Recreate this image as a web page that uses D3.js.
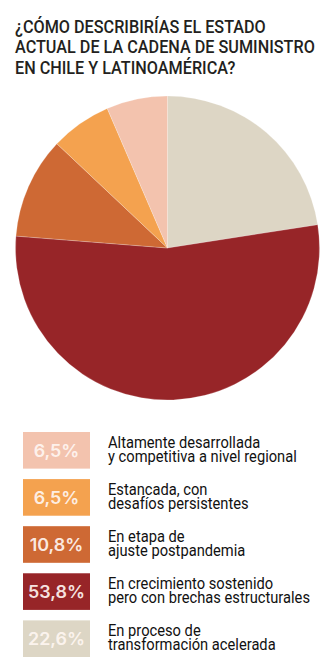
<!DOCTYPE html>
<html>
<head>
<meta charset="utf-8">
<script src="https://cdn.jsdelivr.net/npm/d3@7"></script>
<style>
  html, body { margin: 0; padding: 0; background: #fff; }
  svg { display: block; }
</style>
</head>
<body>
<svg id="chart" width="335" height="665"></svg>
<script>
// Survey answers, in legend order (top to bottom)
const categories = [
  ["Altamente desarrollada", "y competitiva a nivel regional"],
  ["Estancada, con", "desafíos persistentes"],
  ["En etapa de", "ajuste postpandemia"],
  ["En crecimiento sostenido", "pero con brechas estructurales"],
  ["En proceso de", "transformación acelerada"]
];
const values = [6.5, 6.5, 10.8, 53.8, 22.6];
const colors = ["#F3C3AE", "#F4A24F", "#CE6934", "#972528", "#DDD6C5"];
const titleLines = [
  "¿CÓMO DESCRIBIRÍAS EL ESTADO",
  "ACTUAL DE LA CADENA DE SUMINISTRO",
  "EN CHILE Y LATINOAMÉRICA?"
];

const svg = d3.select("#chart");

// Spanish number format: comma as decimal separator
const esFormat = d3.formatLocale({ decimal: ",", thousands: ".", grouping: [3], currency: ["", "€"] }).format(".1f");

// ---- Title (condensed look via horizontal scaling) ----
const titleG = svg.append("g").attr("transform", "translate(15,0)");
const titleText = titleG.append("g");
titleLines.forEach((t, i) => {
  titleText.append("text")
    .attr("x", 0).attr("y", 33 + i * 20.5)
    .attr("font-family", "Roboto, 'Noto Sans', sans-serif")
    .attr("font-weight", 500)
    .attr("font-size", 17.5)
    .attr("fill", "#231f20")
    .text(t);
});
{
  const w = titleText.selectAll("text").nodes()[1].getComputedTextLength();
  titleText.attr("transform", `scale(${300 / w},1)`);
}

// ---- Pie ----
const cx = 167.5, cy = 248, r = 152;
const data = categories.map((c, i) => ({ lines: c, value: values[i], color: colors[i] }));
// Slices run clockwise from 12 o'clock, starting with the last legend entry
const pie = d3.pie().sort(null).value(d => d.value);
const arcs = pie(data.slice().reverse());
const arc = d3.arc().innerRadius(0).outerRadius(r);

svg.append("g")
  .attr("transform", `translate(${cx},${cy})`)
  .selectAll("path")
  .data(arcs)
  .join("path")
  .attr("d", arc)
  .attr("fill", d => d.data.color)
  .attr("stroke", "rgba(255,255,255,0.35)")
  .attr("stroke-width", 0.6);

// ---- Legend ----
const y = d3.scaleBand()
  .domain(d3.range(data.length))
  .range([432, 657])
  .paddingInner(10 / 45)
  .paddingOuter(0)
  .align(0);

const boxX = 23, boxW = 67;
const rows = svg.append("g").selectAll("g")
  .data(data)
  .join("g")
  .attr("transform", (d, i) => `translate(0,${y(i)})`);

rows.append("rect")
  .attr("x", boxX).attr("y", 0)
  .attr("width", boxW).attr("height", y.bandwidth())
  .attr("fill", d => d.color);

// Percentages inside the swatches
const pctG = rows.append("g");
const pct = pctG.append("text")
  .attr("x", 0)
  .attr("y", 0)
  .attr("text-anchor", "middle")
  .attr("font-family", "Inter, 'Open Sans', sans-serif")
  .attr("font-weight", 600)
  .attr("font-size", 17)
  .attr("fill", "rgba(255,246,242,0.93)")
  .text(d => esFormat(d.value) + "%");
{
  const w = pct.nodes()[3].getComputedTextLength();
  const sx = 57 / w;
  pctG.attr("transform", `translate(${boxX + boxW / 2},${y.bandwidth() / 2 + 6.6}) scale(${sx},1)`);
}

const labelG = rows.append("g").attr("transform", "translate(108,0)");
const labels = labelG.append("text")
  .attr("font-family", "Roboto, 'Noto Sans', sans-serif")
  .attr("font-weight", 400)
  .attr("font-size", 15.8)
  .attr("fill", "#111");
labels.selectAll("tspan")
  .data(d => d.lines)
  .join("tspan")
  .attr("x", 0)
  .attr("y", (d, i) => 15.8 + i * 14)
  .text(d => d);

// Compress legend labels to a condensed width
{
  const ref = labels.nodes()[3].querySelectorAll("tspan")[1].getComputedTextLength();
  labelG.attr("transform", `translate(108,0) scale(${202 / ref},1)`);
}
</script>
</body>
</html>
